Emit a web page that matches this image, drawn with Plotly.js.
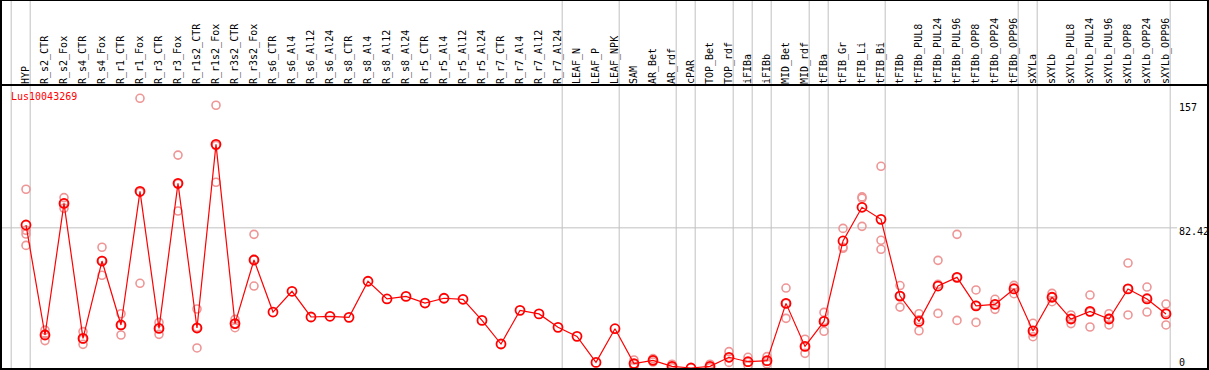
<!DOCTYPE html>
<html>
<head>
<meta charset="utf-8">
<script src="https://cdn.plot.ly/plotly-3.0.1.min.js"></script>
<style>
html,body{margin:0;padding:0;background:#fff;}
#chart{width:1209px;height:370px;}
</style>
</head>
<body>
<div id="chart"></div>
<script>
var chartTitle = "Lus10043269";
var categories = ["HYP","R_s2_CTR","R_s2_Fox","R_s4_CTR","R_s4_Fox","R_r1_CTR","R_r1_Fox","R_r3_CTR","R_r3_Fox","R_r1s2_CTR","R_r1s2_Fox","R_r3s2_CTR","R_r3s2_Fox","R_s6_CTR","R_s6_Al4","R_s6_Al12","R_s6_Al24","R_s8_CTR","R_s8_Al4","R_s8_Al12","R_s8_Al24","R_r5_CTR","R_r5_Al4","R_r5_Al12","R_r5_Al24","R_r7_CTR","R_r7_Al4","R_r7_Al12","R_r7_Al24","LEAF_N","LEAF_P","LEAF_NPK","SAM","AR_Bet","AR_rdf","cPAR","TOP_Bet","TOP_rdf","iFIBa","iFIBb","MID_Bet","MID_rdf","tFIBa","tFIB_Gr","tFIB_Li","tFIB_Bi","tFIBb","tFIBb_PUL8","tFIBb_PUL24","tFIBb_PUL96","tFIBb_OPP8","tFIBb_OPP24","tFIBb_OPP96","sXYLa","sXYLb","sXYLb_PUL8","sXYLb_PUL24","sXYLb_PUL96","sXYLb_OPP8","sXYLb_OPP24","sXYLb_OPP96"];

var meanVals = [84.1,19.4,96.8,17.4,62.9,25.3,103.9,23.3,108.6,23.5,131.5,26.1,63.5,32.9,45.1,30.0,30.4,29.8,51.0,40.6,42.1,38.2,41.0,40.4,28.0,14.1,33.9,31.8,23.9,18.6,3.3,23.1,2.6,4.5,1.0,0.0,1.0,6.3,3.7,4.3,38.0,12.7,27.4,74.7,94.5,87.4,42.3,27.4,48.2,53.3,36.5,37.4,46.5,21.8,41.6,28.8,33.3,28.8,46.5,40.6,31.8];

var rep1 = [105.1,22.3,100.2,21.4,71.0,31.9,158.6,26.8,125.2,34.7,154.5,28.6,78.6,null,null,null,null,null,null,null,null,null,null,null,null,null,null,null,null,null,null,null,4.7,5.5,2.2,null,2.2,9.6,6.3,6.7,47.0,16.9,32.7,82.1,100.6,118.6,48.5,31.9,63.3,78.6,45.9,40.4,48.6,26.3,43.9,31.2,42.9,31.9,61.7,47.6,37.6];
var rep2 = [81.0,20.0,96.8,17.0,63.2,25.0,103.3,23.3,108.3,24.0,130.8,26.0,63.7,null,null,null,null,null,null,null,null,null,null,null,null,null,null,null,null,null,null,null,2.4,4.5,0.6,null,0.6,6.0,3.4,3.8,38.0,12.6,27.9,71.0,99.8,75.1,42.5,28.4,49.2,53.3,36.8,37.3,47.2,20.6,41.8,29.1,33.0,29.2,46.6,41.3,32.5];
var rep3 = [72.1,16.1,93.9,13.9,54.5,19.4,49.8,19.8,92.3,11.8,109.2,23.7,48.2,null,null,null,null,null,null,null,null,null,null,null,null,null,null,null,null,null,null,null,0.8,3.5,0.2,null,0.2,3.3,1.4,2.4,29.2,8.6,21.6,70.4,83.3,69.8,35.8,21.9,32.1,28.0,26.8,34.5,43.7,18.4,39.0,26.1,24.1,25.3,31.2,32.9,25.3];
var rep4 = [78.8].concat(new Array(60).fill(null));

var groupEnds = [-1,0,28,31,34,35,37,38,39,41,42,45,52,53,60];
var rightTickVals = [157, 82.42, 0];
var rightTickText = ["157", "82.42", "0"];

var W = 1209, H = 370;
var mL = 1, mR = 1, mT = 85, mB = 1;
var plotH = H - mT - mB;
var topPaper = 1 + mT / plotH;
var mono = "DejaVu Sans Mono, Liberation Mono, monospace";
var repColor = "#ee9595";
var meanColor = "#ff0000";

var traces = [];
[rep1, rep2, rep3, rep4].forEach(function (r) {
  traces.push({
    x: categories, y: r, type: "scatter", mode: "markers",
    marker: {symbol: "circle-open", size: 8, color: repColor, line: {width: 1.6, color: repColor}},
    hoverinfo: "skip", showlegend: false
  });
});
traces.push({
  x: categories, y: meanVals, type: "scatter", mode: "lines+markers",
  line: {color: meanColor, width: 1.2},
  marker: {symbol: "circle-open", size: 9, color: meanColor, line: {width: 1.8, color: meanColor}},
  showlegend: false
});

var shapes = [];
groupEnds.forEach(function (g) {
  shapes.push({type: "line", xref: "x", yref: "paper", x0: g + 0.22, x1: g + 0.22, y0: 0, y1: topPaper,
    line: {color: "#c0c0c0", width: 1}, layer: "below"});
});
shapes.push({type: "line", xref: "paper", yref: "y", x0: 0, x1: (1177 - mL) / (W - mL - mR), y0: 82.42, y1: 82.42,
  line: {color: "#c0c0c0", width: 1}, layer: "below"});
shapes.push({type: "rect", xref: "paper", yref: "paper", x0: 0, x1: 1, y0: 0, y1: 1, line: {color: "#000", width: 2}});
shapes.push({type: "line", xref: "paper", yref: "paper", x0: 0, x1: 1, y0: topPaper, y1: topPaper, line: {color: "#000", width: 2}});
shapes.push({type: "line", xref: "paper", yref: "paper", x0: 0, x1: 0, y0: 1, y1: topPaper, line: {color: "#000", width: 2}});
shapes.push({type: "line", xref: "paper", yref: "paper", x0: 1, x1: 1, y0: 1, y1: topPaper, line: {color: "#000", width: 2}});

var annotations = [];
var shifts = [-6, -4, 6];
rightTickVals.forEach(function (v, i) {
  annotations.push({xref: "paper", yref: "y", x: (1177 - mL) / (W - mL - mR), y: v, xanchor: "left", yanchor: "middle",
    yshift: shifts[i], text: rightTickText[i], showarrow: false, font: {family: mono, size: 10, color: "#000"}});
});
annotations.push({xref: "paper", yref: "paper", x: (9 - mL) / (W - mL - mR), y: 1 - (97 - mT) / plotH, xanchor: "left", yanchor: "middle",
  text: chartTitle, showarrow: false, font: {family: mono, size: 10, color: "#ff0000"}});

var layout = {
  width: W, height: H,
  margin: {l: mL, r: mR, t: mT, b: mB, pad: 0},
  paper_bgcolor: "#fff", plot_bgcolor: "#fff",
  showlegend: false,
  xaxis: {
    type: "category", side: "top", range: [(mL - 26) / 19, (W - mR - 26) / 19],
    tickmode: "array", tickvals: categories, ticktext: categories,
    tickangle: -90, ticks: "", ticklabelstandoff: 0,
    tickfont: {family: mono, size: 10, color: "#000"},
    showgrid: false, zeroline: false, showline: false, automargin: false, fixedrange: true
  },
  yaxis: {
    range: [-(369 - 368) / 1.7006, 157 + (101 - mT) / 1.7006],
    showticklabels: false, ticks: "", showgrid: false, zeroline: false, showline: false, automargin: false, fixedrange: true
  },
  shapes: shapes,
  annotations: annotations
};

Plotly.newPlot("chart", traces, layout, {displayModeBar: false, staticPlot: true});
</script>
</body>
</html>
